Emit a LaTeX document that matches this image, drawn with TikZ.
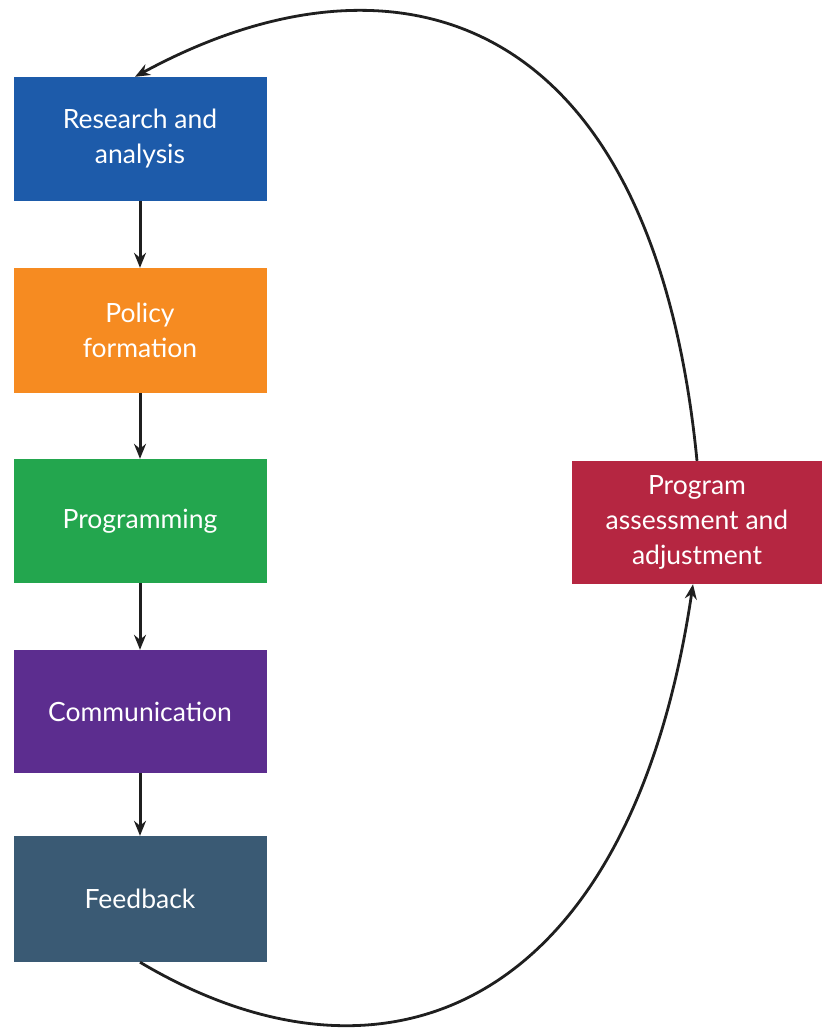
\documentclass[tikz,border=0pt]{standalone}
\usepackage{fontspec}
\setmainfont{Lato}
\usetikzlibrary{arrows.meta}
\definecolor{cblue}{HTML}{1D5BAA}
\definecolor{corange}{HTML}{F68B21}
\definecolor{cgreen}{HTML}{23A64E}
\definecolor{cpurple}{HTML}{5C2D8F}
\definecolor{cslate}{HTML}{3A5A74}
\definecolor{ccrimson}{HTML}{B52641}
\tikzset{
  stagebox/.style={rectangle, inner sep=0pt, text=white, align=center,
    minimum width=253pt, minimum height=125pt,
    font=\fontsize{26.5}{35}\selectfont},
  arr/.style={line width=3pt, draw=black!88, -{Stealth[length=15pt,width=12pt,inset=5pt]}},
  curvearr/.style={line width=2.8pt, draw=black!88, -{Stealth[length=15pt,width=12pt,inset=5pt]}}
}
\begin{document}
\begin{tikzpicture}[x=1pt,y=-1pt]
\useasboundingbox (0,0) rectangle (823,1030);
\node[stagebox, fill=cblue, minimum height=124pt] (ra) at (140,139) {Research and\\analysis};
\node[stagebox, fill=corange] (pf) at (140,330.5) {Policy\\formation};
\node[stagebox, fill=cgreen, minimum height=124pt] (pg) at (140,521) {Programming};
\node[stagebox, fill=cpurple, minimum height=123pt] (cm) at (140,711.5) {Communication};
\node[stagebox, fill=cslate, minimum height=126pt] (fb) at (140,899) {Feedback};
\node[stagebox, fill=ccrimson, minimum width=250pt, minimum height=123pt] (pa) at (697,522.5) {Program\\assessment and\\adjustment};
\draw[arr] (ra.south) -- (pf.north);
\draw[arr] (pf.south) -- (pg.north);
\draw[arr] (pg.south) -- (cm.north);
\draw[arr] (cm.south) -- (fb.north);
\draw[curvearr] (fb.south) .. controls (385,1108) and (630,1010) .. ([xshift=-4pt]pa.south);
\draw[curvearr] (pa.north) .. controls (652,2) and (390,-62) .. ([xshift=-5pt]ra.north);
\end{tikzpicture}
\end{document}
